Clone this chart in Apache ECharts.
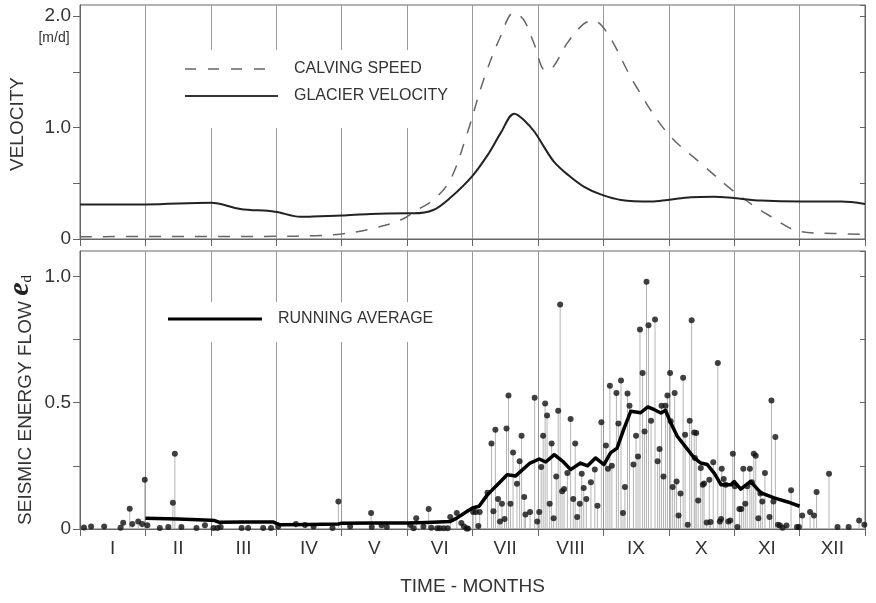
<!DOCTYPE html>
<html>
<head>
<meta charset="utf-8">
<script src="https://cdn.jsdelivr.net/npm/echarts@6/dist/echarts.min.js"></script>
<style>
html,body{margin:0;padding:0;background:#fff;}
#chart{width:876px;height:603px;}
</style>
</head>
<body>
<div id="chart"></div>
<script>
const months = ['I','II','III','IV','V','VI','VII','VIII','IX','X','XI','XII'];

// x = time in months (0 = start of January), y = m/d
const glacierVelocity = [
  [0,0.31],[1.0,0.31],[2.0,0.325],[2.45,0.27],[2.98,0.245],[3.37,0.2],[3.67,0.205],
  [4.0,0.21],[4.44,0.225],[5.0,0.23],[5.1,0.23],[5.4,0.26],[5.66,0.37],[5.99,0.56],
  [6.25,0.77],[6.43,0.95],[6.64,1.125],[6.80,1.06],[6.95,0.96],[7.1,0.82],[7.25,0.69],
  [7.45,0.58],[7.7,0.47],[7.96,0.40],[8.27,0.35],[8.73,0.336],[8.98,0.35],[9.34,0.375],
  [9.69,0.38],[10.0,0.367],[10.41,0.345],[11.02,0.336],[11.63,0.336],[12.0,0.315]
];
const calvingSpeed = [
  [0,0.02],[1,0.022],[2,0.022],[3,0.024],[3.6,0.03],[4.0,0.045],[4.44,0.09],[4.9,0.17],
  [5.15,0.26],[5.4,0.35],[5.66,0.53],[5.92,0.95],[6.17,1.43],[6.43,1.82],[6.63,2.03],
  [6.78,1.97],[6.93,1.77],[7.12,1.51],[7.24,1.55],[7.45,1.76],[7.7,1.93],[7.85,1.96],
  [8.06,1.85],[8.47,1.40],[8.98,0.95],[9.49,0.68],[9.99,0.43],[10.51,0.22],[11.02,0.066],
  [11.53,0.05],[12.0,0.04]
];
// daily seismic energy flow e_d
const seismicEnergy = [
  [0.06,0.006],[0.17,0.01],[0.37,0.01],[0.62,0.005],[0.66,0.025],[0.76,0.08],[0.80,0.02],
  [0.89,0.03],[0.95,0.02],[0.99,0.195],[1.03,0.015],[1.22,0.004],[1.35,0.008],[1.42,0.104],
  [1.45,0.298],[1.55,0.008],[1.78,0.004],[1.91,0.015],[2.04,0.004],[2.10,0.004],[2.15,0.008],
  [2.47,0.004],[2.57,0.004],[2.80,0.004],[2.92,0.004],[3.03,0.01],[3.30,0.02],[3.44,0.016],
  [3.57,0.01],[3.86,0.004],[3.95,0.109],[4.13,0.01],[4.45,0.063],[4.46,0.008],[4.61,0.015],
  [4.69,0.008],[5.05,0.016],[5.10,0.003],[5.14,0.043],[5.25,0.01],[5.33,0.079],[5.37,0.005],
  [5.46,0.003],[5.50,0.003],[5.56,0.003],[5.62,0.003],[5.66,0.047],[5.76,0.063],[5.83,0.024],
  [5.87,0.01],[5.91,0.002],[5.93,0.002],[6.01,0.067],[6.05,0.067],[6.09,0.012],[6.11,0.067],
  [6.23,0.143],[6.29,0.338],[6.32,0.07],[6.35,0.393],[6.39,0.119],[6.42,0.03],[6.45,0.10],
  [6.49,0.04],[6.52,0.398],[6.55,0.528],[6.58,0.10],[6.62,0.303],[6.68,0.179],[6.72,0.268],
  [6.75,0.369],[6.79,0.127],[6.81,0.057],[6.88,0.067],[6.95,0.519],[6.99,0.03],[7.02,0.067],
  [7.05,0.245],[7.08,0.369],[7.11,0.497],[7.14,0.449],[7.18,0.10],[7.21,0.338],[7.24,0.043],
  [7.28,0.208],[7.31,0.468],[7.34,0.888],[7.37,0.149],[7.40,0.158],[7.45,0.222],[7.50,0.435],
  [7.54,0.119],[7.57,0.338],[7.60,0.047],[7.64,0.10],[7.67,0.219],[7.70,0.162],[7.74,0.119],
  [7.81,0.185],[7.87,0.235],[7.91,0.092],[7.97,0.422],[8.04,0.33],[8.07,0.238],[8.10,0.567],
  [8.13,0.25],[8.20,0.538],[8.23,0.417],[8.27,0.588],[8.30,0.063],[8.33,0.166],[8.37,0.536],
  [8.40,0.488],[8.46,0.255],[8.50,0.369],[8.53,0.287],[8.56,0.789],[8.60,0.617],[8.63,0.386],
  [8.66,0.978],[8.69,0.806],[8.73,0.428],[8.79,0.829],[8.83,0.268],[8.86,0.317],[8.89,0.488],
  [8.92,0.208],[8.95,0.488],[8.98,0.528],[9.02,0.617],[9.03,0.426],[9.06,0.166],[9.09,0.538],
  [9.12,0.188],[9.15,0.053],[9.18,0.14],[9.22,0.598],[9.25,0.373],[9.29,0.017],[9.32,0.428],
  [9.35,0.826],[9.39,0.382],[9.40,0.281],[9.42,0.38],[9.45,0.113],[9.49,0.241],[9.52,0.175],
  [9.54,0.18],[9.58,0.026],[9.62,0.195],[9.64,0.028],[9.68,0.264],[9.75,0.657],[9.78,0.03],
  [9.80,0.04],[9.81,0.238],[9.84,0.198],[9.87,0.175],[9.91,0.03],[9.94,0.034],[9.98,0.298],
  [10.01,0.169],[10.05,0.008],[10.08,0.079],[10.11,0.079],[10.14,0.238],[10.17,0.10],
  [10.20,0.169],[10.24,0.238],[10.27,0.185],[10.30,0.298],[10.33,0.29],[10.37,0.043],
  [10.40,0.14],[10.43,0.109],[10.47,0.222],[10.54,0.047],[10.57,0.508],[10.60,0.109],
  [10.63,0.364],[10.67,0.017],[10.70,0.014],[10.74,0.005],[10.80,0.014],[10.87,0.153],
  [10.96,0.008],[10.99,0.008],[11.04,0.053],[11.16,0.067],[11.22,0.053],[11.26,0.146],
  [11.45,0.219],[11.58,0.008],[11.75,0.008],[11.91,0.034],[11.99,0.017]
];
const runningAverage = [
  [1.0,0.043],[1.5,0.04],[2.0,0.035],[2.05,0.034],[2.12,0.027],[2.5,0.028],[2.95,0.028],
  [3.0,0.022],[3.05,0.017],[3.5,0.018],[3.95,0.02],[4.0,0.023],[4.5,0.024],[5.0,0.024],
  [5.3,0.026],[5.66,0.03],[5.76,0.043],[5.92,0.07],[6.0,0.083],[6.1,0.09],[6.23,0.136],
  [6.38,0.175],[6.53,0.215],[6.66,0.21],[6.88,0.261],[7.02,0.277],[7.12,0.265],[7.25,0.294],
  [7.38,0.268],[7.5,0.235],[7.65,0.261],[7.76,0.25],[7.88,0.281],[8.01,0.255],[8.11,0.301],
  [8.21,0.32],[8.31,0.393],[8.42,0.466],[8.57,0.46],[8.68,0.483],[8.78,0.472],[8.88,0.459],
  [8.95,0.47],[9.03,0.42],[9.13,0.367],[9.29,0.314],[9.39,0.281],[9.49,0.261],[9.59,0.255],
  [9.7,0.219],[9.8,0.175],[9.95,0.175],[10.0,0.188],[10.1,0.158],[10.25,0.188],[10.41,0.143],
  [10.61,0.123],[10.82,0.107],[11.0,0.09]
];
const velocityTickLabels = {0:'0', 1:'1.0', 2:'2.0'};
const energyTickLabels = {0:'0', 0.5:'0.5', 1:'1.0'};

const FONT = 'Liberation Sans, Arial, sans-serif';
const TXT = '#333';
const GRIDC = '#999';
const FRAME = '#666';

const chart = echarts.init(document.getElementById('chart'), null, {renderer:'canvas'});

function catAxis(gi, showLabels) {
  return {
    type:'category', gridIndex:gi, data:months, boundaryGap:true,
    axisLine:{show:true, lineStyle:{color:FRAME, width:1}},
    axisTick:{show:true, inside:false, length:7, interval:0, lineStyle:{color:FRAME}},
    axisLabel:{show:showLabels, interval:0, fontSize:19, fontFamily:FONT, color:TXT, margin:10},
    splitLine:{show:true, interval:0, lineStyle:{color:GRIDC, width:1}},
    name: showLabels ? 'TIME - MONTHS' : '',
    nameLocation:'middle', nameGap:48,
    nameTextStyle:{fontSize:19, fontFamily:FONT, color:TXT}
  };
}
function valX(gi) {
  return {type:'value', gridIndex:gi, min:0, max:12, show:false};
}
function yLeft(gi, max, interval, labels) {
  return {
    type:'value', gridIndex:gi, position:'left', min:0, max:max, interval:interval,
    axisLine:{show:true, lineStyle:{color:FRAME}},
    axisTick:{show:true, inside:false, length:7, lineStyle:{color:FRAME}},
    axisLabel:{fontSize:19, fontFamily:FONT, color:TXT, margin:9, showMaxLabel:false,
      formatter:function(v){ const k = Math.round(v*100)/100; return labels[k] !== undefined ? labels[k] : ''; }},
    splitLine:{show:false}
  };
}
function yRight(gi, max, interval) {
  return {
    type:'value', gridIndex:gi, position:'right', min:0, max:max, interval:interval,
    axisLine:{show:true, lineStyle:{color:FRAME}},
    axisTick:{show:true, inside:true, length:5, lineStyle:{color:FRAME}},
    axisLabel:{show:false}, splitLine:{show:false}
  };
}

const option = {
  backgroundColor:'#fff',
  animation:false,
  grid:[
    {left:80, right:11, top:5, height:234, show:true, borderColor:FRAME, borderWidth:1, backgroundColor:'transparent'},
    {left:80, right:11, top:251, height:278, show:true, borderColor:FRAME, borderWidth:1, backgroundColor:'transparent'}
  ],
  xAxis:[ catAxis(0,false), valX(0), catAxis(1,true), valX(1) ],
  yAxis:[ yLeft(0,2.1,0.5,velocityTickLabels), yRight(0,2.1,0.5),
          yLeft(1,1.1,0.25,energyTickLabels), yRight(1,1.1,0.25) ],
  series:[
    {name:'CALVING SPEED', type:'line', xAxisIndex:1, yAxisIndex:0, data:calvingSpeed,
     smooth:0.35, showSymbol:false, lineStyle:{color:'#666', width:1.5, type:[12,11]}, z:3},
    {name:'GLACIER VELOCITY', type:'line', xAxisIndex:1, yAxisIndex:0, data:glacierVelocity,
     smooth:0.35, showSymbol:false, lineStyle:{color:'#222', width:2}, z:4},
    {name:'stems', type:'bar', xAxisIndex:3, yAxisIndex:2, data:seismicEnergy,
     barWidth:1, itemStyle:{color:'#b4b4b4'}, z:2},
    {name:'e_d', type:'scatter', xAxisIndex:3, yAxisIndex:2, data:seismicEnergy,
     symbolSize:6, itemStyle:{color:'#111'}, z:3},
    {name:'RUNNING AVERAGE', type:'line', xAxisIndex:3, yAxisIndex:2, data:runningAverage,
     smooth:false, showSymbol:false, lineStyle:{color:'#000', width:3.5, join:'round'}, z:5}
  ],
  graphic:[
    {type:'rect', z:50, shape:{x:160, y:50, width:255, height:78}, style:{fill:'#fff'}},
    {type:'line', z:51, shape:{x1:185, y1:69, x2:268, y2:69}, style:{stroke:'#666', lineWidth:1.5, lineDash:[11,12]}},
    {type:'text', z:51, x:294, y:69, style:{text:'CALVING SPEED', font:'16px '+FONT, fill:TXT, verticalAlign:'middle'}},
    {type:'line', z:51, shape:{x1:185, y1:96, x2:278, y2:96}, style:{stroke:'#333', lineWidth:2}},
    {type:'text', z:51, x:294, y:96, style:{text:'GLACIER VELOCITY', font:'16px '+FONT, fill:TXT, verticalAlign:'middle'}},
    {type:'rect', z:50, shape:{x:160, y:302, width:255, height:40}, style:{fill:'#fff'}},
    {type:'line', z:51, shape:{x1:168, y1:319, x2:262, y2:319}, style:{stroke:'#000', lineWidth:3}},
    {type:'text', z:51, x:278, y:319, style:{text:'RUNNING AVERAGE', font:'16px '+FONT, fill:TXT, verticalAlign:'middle'}},
    {type:'text', z:51, x:54, y:38, style:{text:'[m/d]', font:'14px '+FONT, fill:TXT, align:'center', verticalAlign:'middle'}},
    {type:'text', z:51, x:18, y:124, rotation:Math.PI/2, style:{text:'VELOCITY', font:'19px '+FONT, fill:TXT, align:'center', verticalAlign:'middle'}},
    {type:'text', z:51, x:20, y:400, rotation:Math.PI/2, style:{
      text:'{a|SEISMIC ENERGY FLOW }{e|e}{d|d}', align:'center', verticalAlign:'middle',
      rich:{
        a:{font:'19px '+FONT, fill:TXT, verticalAlign:'bottom'},
        e:{font:'bold italic 30px Liberation Serif, serif', fill:'#222', verticalAlign:'bottom'},
        d:{font:'15px Liberation Serif, serif', fill:'#222', verticalAlign:'bottom'}
      }}}
  ]
};
chart.setOption(option);
</script>
</body>
</html>
